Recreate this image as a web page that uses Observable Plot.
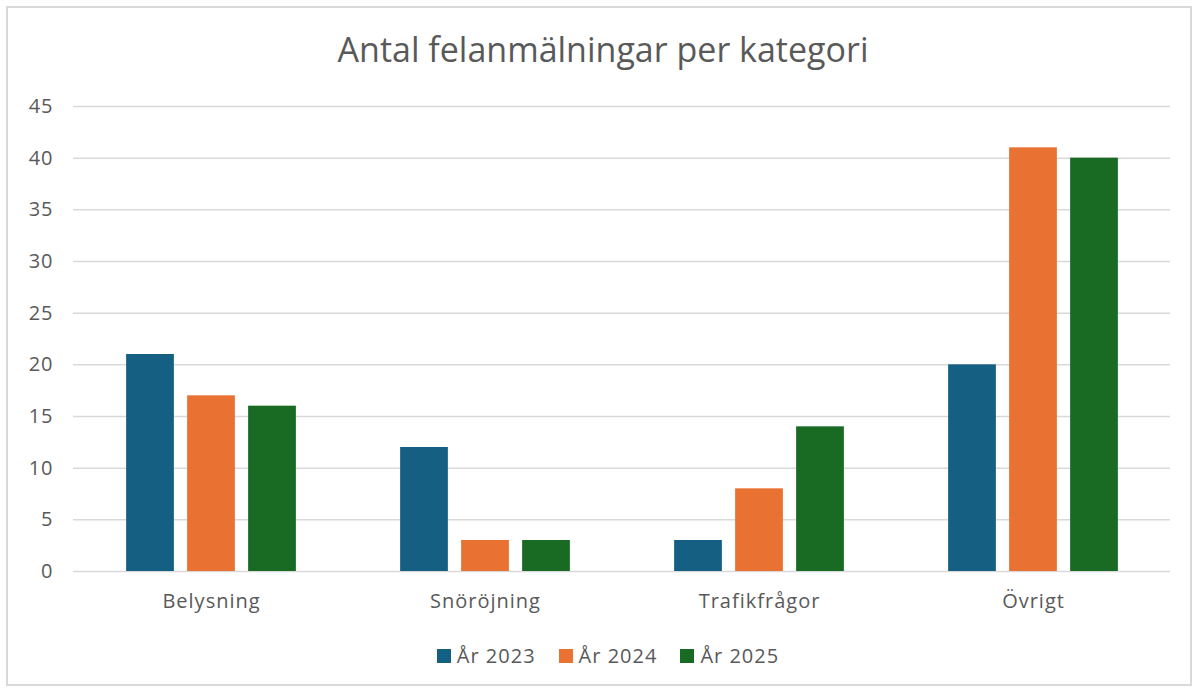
<!DOCTYPE html>
<html>
<head>
<meta charset="utf-8">
<script src="https://cdn.jsdelivr.net/npm/d3@7"></script>
<script src="https://cdn.jsdelivr.net/npm/@observablehq/plot@0.6"></script>
<style>
  html, body { margin: 0; padding: 0; background: #fff; }
  body { width: 1198px; height: 691px; position: relative; overflow: hidden; font-family: "Open Sans", sans-serif; }
  #frame { position: absolute; left: 6px; top: 6px; width: 1186px; height: 680px; border: 2px solid #d9d9d9; box-sizing: border-box; }
  #title { position: absolute; left: 0; width: 1206px; top: 27px; text-align: center; font-size: 34px; color: #595959; line-height: 44px; }
  #chart { position: absolute; left: 0; top: 0; }
  #legend { position: absolute; left: 0; width: 1216px; top: 643px; display: flex; justify-content: center; gap: 23px; font-size: 20px; letter-spacing: 1px; color: #595959; line-height: 26px; }
  #legend .item { display: flex; align-items: center; gap: 6px; }
  #legend .sw { width: 14px; height: 14px; display: inline-block; }
</style>
</head>
<body>
<div id="frame"></div>
<div id="title">Antal felanmälningar per kategori</div>
<div id="chart"></div>
<div id="legend"></div>
<script>
const categories = ["Belysning", "Snöröjning", "Trafikfrågor", "Övrigt"];
const series = ["År 2023", "År 2024", "År 2025"];
const colors = ["#156082", "#E97132", "#196B24"];
const values2023 = [21, 12, 3, 20];
const values2024 = [17, 3, 8, 41];
const values2025 = [16, 3, 14, 40];
const yTicks = [0, 5, 10, 15, 20, 25, 30, 35, 40, 45];

const seriesValues = [values2023, values2024, values2025];
const data = [];
categories.forEach((c, i) => {
  series.forEach((s, j) => data.push({category: c, series: s, value: seriesValues[j][i]}));
});

const barWidth = 48;
const step = (1198 - 73 - 28) / categories.length;
const inset = (step - barWidth) / 2;
const offsets = [-61, 0, 61];

const plot = Plot.plot({
  width: 1198,
  height: 621,
  marginTop: 106,
  marginLeft: 73,
  marginRight: 28,
  marginBottom: 50,
  style: {fontFamily: "'Open Sans', sans-serif", fontSize: "20px", letterSpacing: "1px", color: "#595959", background: "transparent"},
  x: {domain: categories, padding: 0, label: null},
  y: {domain: [0, 45], label: null},
  color: {domain: series, range: colors},
  marks: [
    Plot.ruleY(yTicks, {stroke: "#d9d9d9", strokeWidth: 1.5}),
    Plot.axisY(yTicks, {tickSize: 0, tickPadding: 20, fontSize: 20, fill: "#595959", label: null}),
    ...series.map((s, j) => Plot.barY(data.filter(d => d.series === s), {
      x: "category", y: "value", fill: "series",
      insetLeft: inset, insetRight: inset, dx: offsets[j]
    })),
    Plot.axisX({tickSize: 0, tickPadding: 22, fontSize: 20, fill: "#595959", label: null})
  ]
});
document.getElementById("chart").appendChild(plot);

const legend = document.getElementById("legend");
series.forEach((s, j) => {
  const item = document.createElement("div");
  item.className = "item";
  const sw = document.createElement("span");
  sw.className = "sw";
  sw.style.background = colors[j];
  const label = document.createElement("span");
  label.textContent = s;
  item.appendChild(sw);
  item.appendChild(label);
  legend.appendChild(item);
});
</script>
</body>
</html>
